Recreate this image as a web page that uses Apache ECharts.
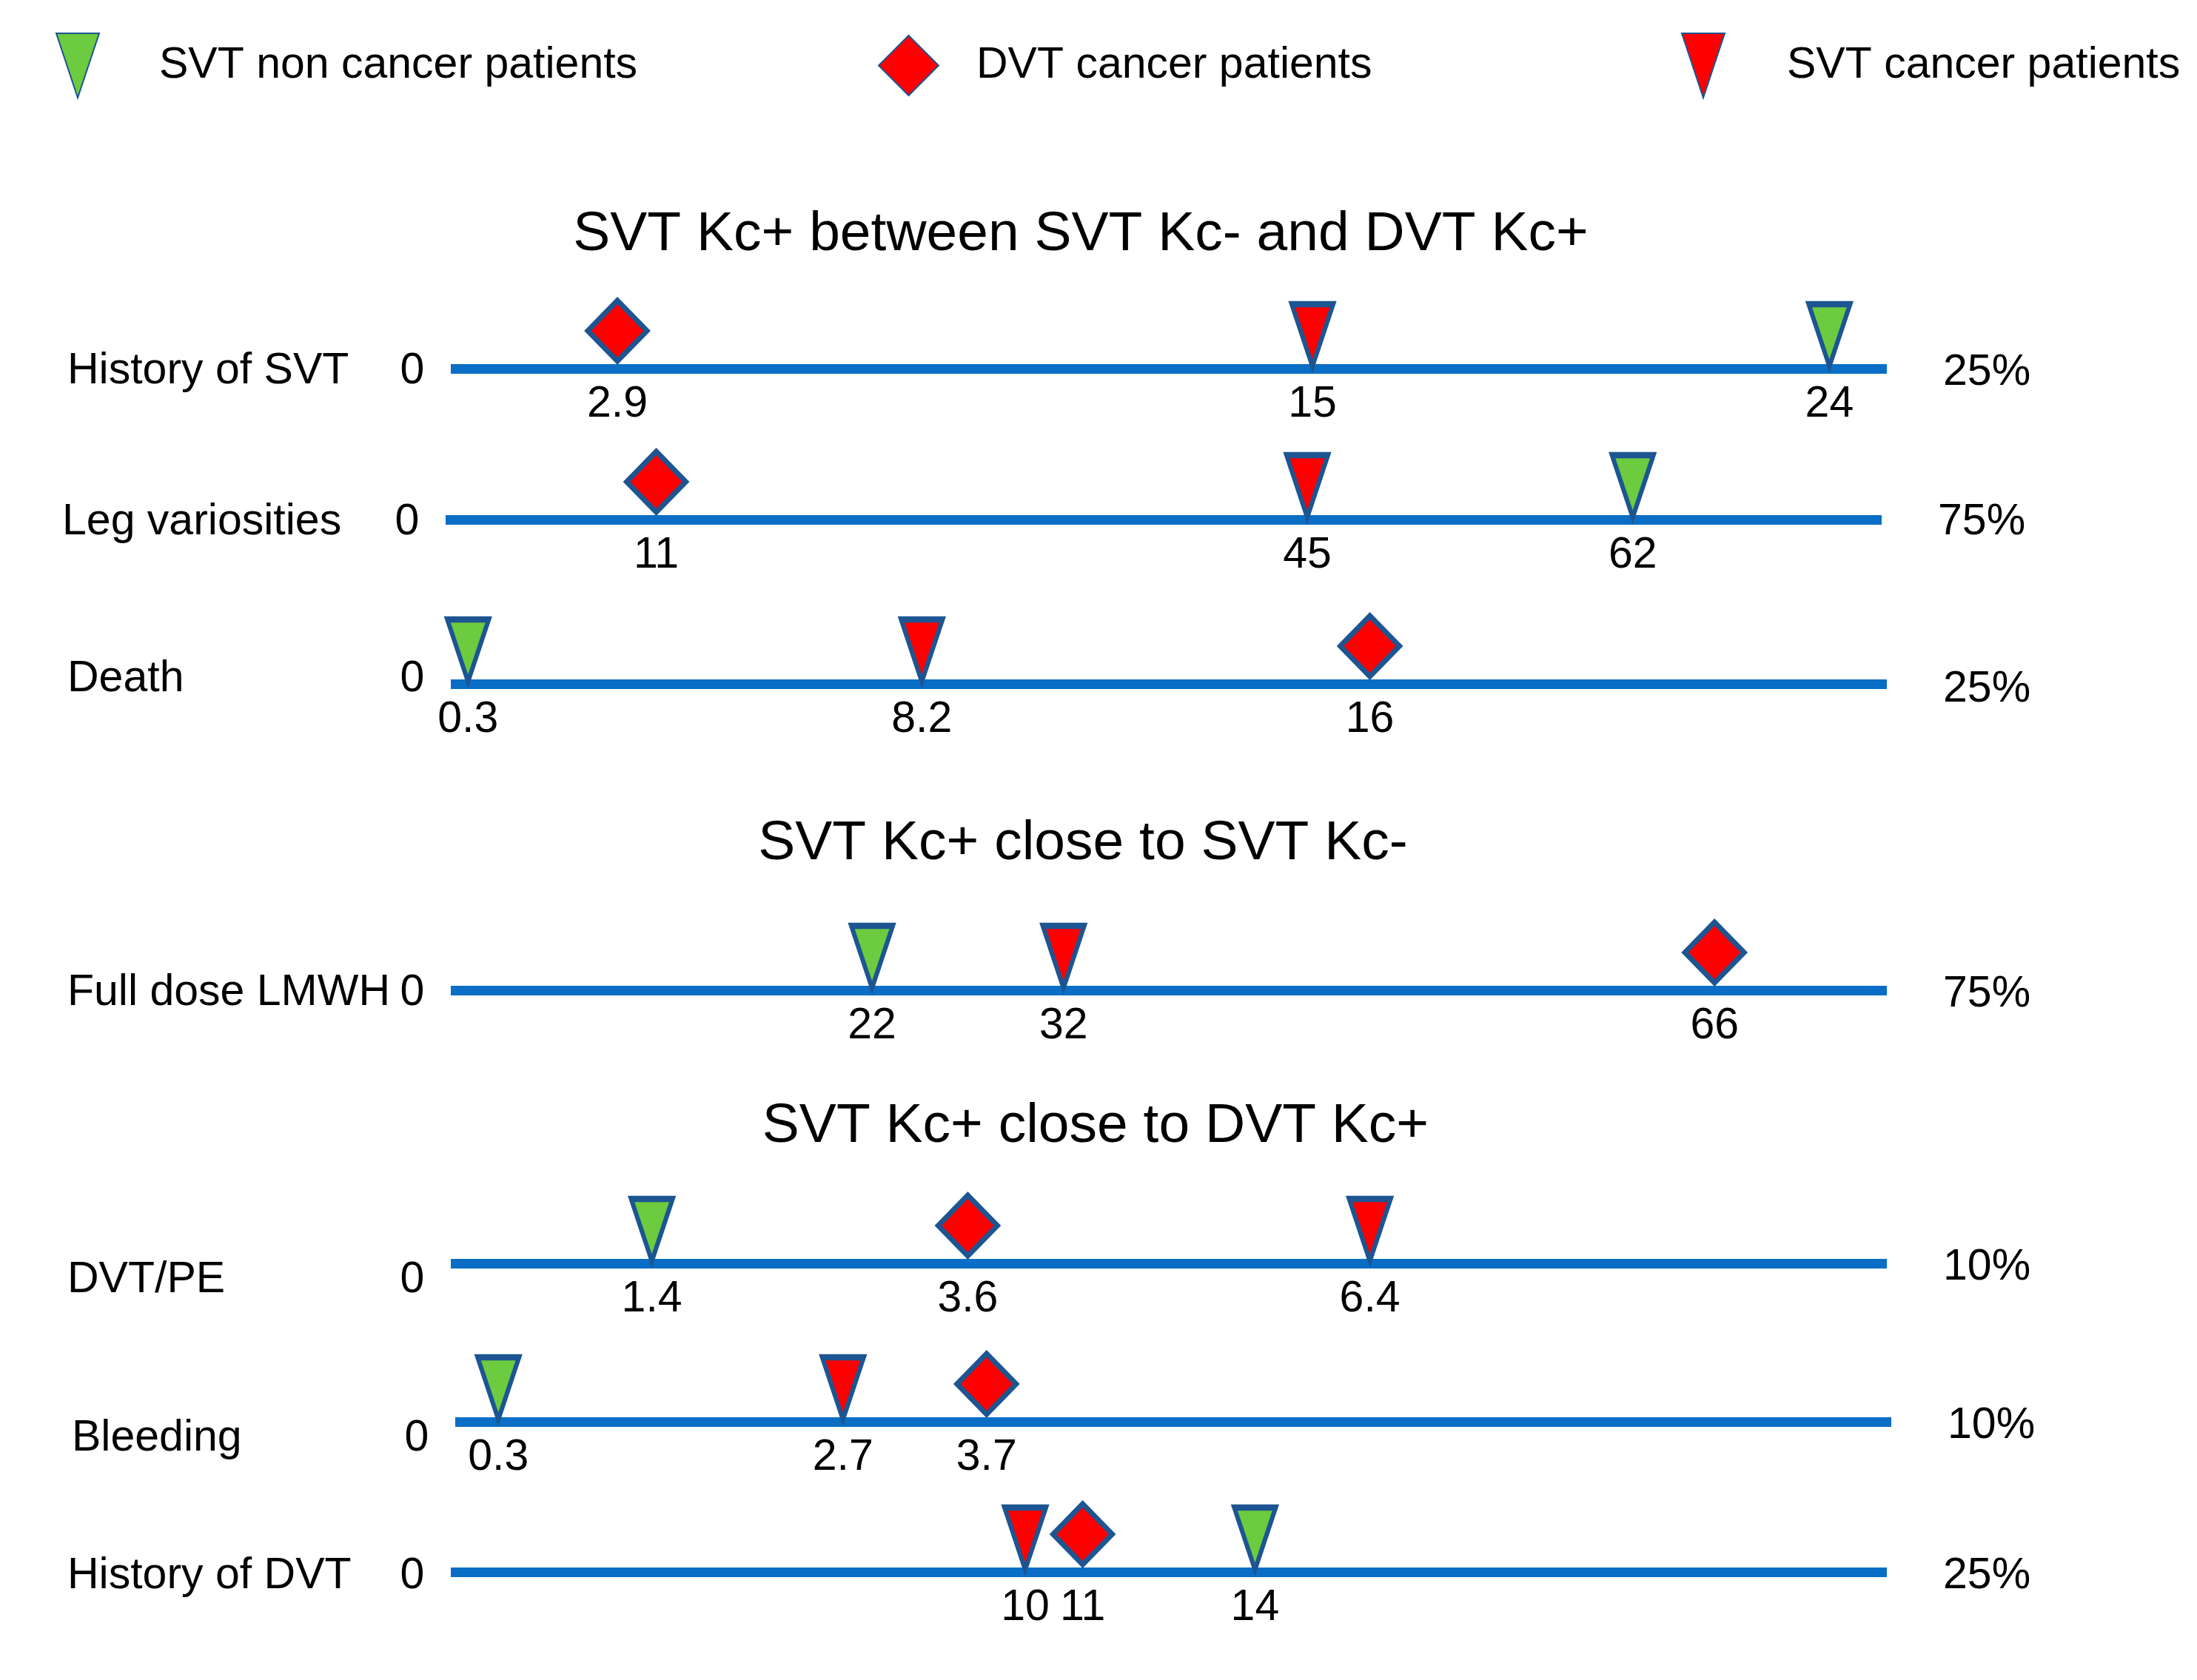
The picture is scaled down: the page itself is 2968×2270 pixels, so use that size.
<!DOCTYPE html>
<html><head><meta charset="utf-8">
<script src="https://cdn.jsdelivr.net/npm/echarts@6/dist/echarts.min.js"></script>
<style>html,body{margin:0;padding:0;background:#fff}#c{width:2968px;height:2270px}</style>
</head><body><div id="c"></div>
<script>
// ---- data ----
const groups = ['SVT non cancer patients', 'DVT cancer patients', 'SVT cancer patients'];
const rowNames = ['History of SVT', 'Leg variosities', 'Death', 'Full dose LMWH', 'DVT/PE', 'Bleeding', 'History of DVT'];
const scaleMax = [25, 75, 25, 75, 10, 10, 25];
const svtNonCancer = [24, 62, 0.3, 22, 1.4, 0.3, 14];
const dvtCancer = [2.9, 11, 16, 66, 3.6, 3.7, 11];
const svtCancer = [15, 45, 8.2, 32, 6.4, 2.7, 10];
const sectionTitles = ['SVT Kc+ between SVT Kc- and DVT Kc+', 'SVT Kc+ close to SVT Kc-', 'SVT Kc+ close to DVT Kc+'];

// ---- layout ----
const lineY = [498, 702, 924, 1338, 1707, 1921, 2124];
const lineLeft = [609, 602, 609, 609, 609, 615, 609];
const lineLen = 1940;
const nameDy = [4, 4, -6, 4, 23, 23, 6];
const pctDy = [6, 4, 8, 6, 6, 6, 6];
const titleY = [317, 1140, 1522];
const titleX = [1460, 1463, 1480];

const FONT = 'Liberation Sans, Arial, sans-serif';
const FS = 59;
const BLUE = '#0A6EC6';
const BORDER = '#1C5591';
const GREEN = '#6CCB3F';
const RED = '#FF0000';
const TRI = 'path://M0,0L56,0L28,84Z';
const triSize = [56, 84], triOff = -45;
const diaSize = [80, 82], diaOff = -51;
const labelBelow = 49;

const groupData = [svtNonCancer, dvtCancer, svtCancer];
const groupStyle = [
  {symbol: TRI, size: triSize, off: triOff, color: GREEN},
  {symbol: 'diamond', size: diaSize, off: diaOff, color: RED},
  {symbol: TRI, size: triSize, off: triOff, color: RED}
];

const grid = [], xAxis = [], yAxis = [], series = [], graphic = [];
rowNames.forEach((name, i) => {
  grid.push({left: lineLeft[i], top: lineY[i] - 10, width: lineLen, height: 10, containLabel: false});
  xAxis.push({
    type: 'value', gridIndex: i, min: 0, max: scaleMax[i],
    axisLine: {show: true, onZero: false, lineStyle: {color: BLUE, width: 13, cap: 'butt'}},
    axisTick: {show: false}, axisLabel: {show: false}, splitLine: {show: false}
  });
  yAxis.push({type: 'value', gridIndex: i, min: 0, max: 1, show: false});
  groups.forEach((g, k) => {
    const st = groupStyle[k];
    series.push({
      type: 'scatter', name: g, xAxisIndex: i, yAxisIndex: i, clip: false,
      symbol: st.symbol, symbolSize: st.size, symbolOffset: [0, st.off],
      itemStyle: {color: st.color, borderColor: BORDER, borderWidth: 7, opacity: 1},
      label: {show: true, position: 'inside', offset: [0, labelBelow - st.off],
        formatter: p => String(p.value[0]), color: '#000', fontSize: FS, fontFamily: FONT},
      emphasis: {disabled: true},
      data: [[groupData[k][i], 0]]
    });
  });
  graphic.push({type: 'text', x: lineLeft[i] - 518, y: lineY[i] + nameDy[i],
    style: {text: name, fontSize: FS, fontFamily: FONT, fill: '#000', align: 'left', verticalAlign: 'middle'}});
  graphic.push({type: 'text', x: lineLeft[i] - 52, y: lineY[i] + nameDy[i],
    style: {text: '0', fontSize: FS, fontFamily: FONT, fill: '#000', align: 'center', verticalAlign: 'middle'}});
  graphic.push({type: 'text', x: lineLeft[i] + lineLen + 76, y: lineY[i] + pctDy[i],
    style: {text: scaleMax[i] + '%', fontSize: FS, fontFamily: FONT, fill: '#000', align: 'left', verticalAlign: 'middle'}});
});
sectionTitles.forEach((t, j) => {
  graphic.push({type: 'text', x: titleX[j], y: titleY[j],
    style: {text: t, fontSize: 75, fontFamily: FONT, fill: '#000', align: 'center', verticalAlign: 'middle'}});
});

const legendPos = [
  {left: 75, top: 44, w: 58, h: 87, pad: 76, icon: TRI},
  {left: 1186, top: 47, w: 81, h: 81, pad: 46, icon: 'diamond'},
  {left: 2271, top: 44, w: 58, h: 87, pad: 79, icon: TRI}
];
const legend = groups.map((g, k) => ({
  data: [{name: g, icon: legendPos[k].icon}],
  left: legendPos[k].left, top: legendPos[k].top, padding: 0,
  itemWidth: legendPos[k].w, itemHeight: legendPos[k].h,
  selectedMode: false,
  textStyle: {fontSize: FS, fontFamily: FONT, color: '#000', padding: [6, 0, 0, legendPos[k].pad]}
}));

const chart = echarts.init(document.getElementById('c'), null, {renderer: 'canvas'});
chart.setOption({
  backgroundColor: '#fff', animation: false,
  legend, grid, xAxis, yAxis, series, graphic
});
</script></body></html>
